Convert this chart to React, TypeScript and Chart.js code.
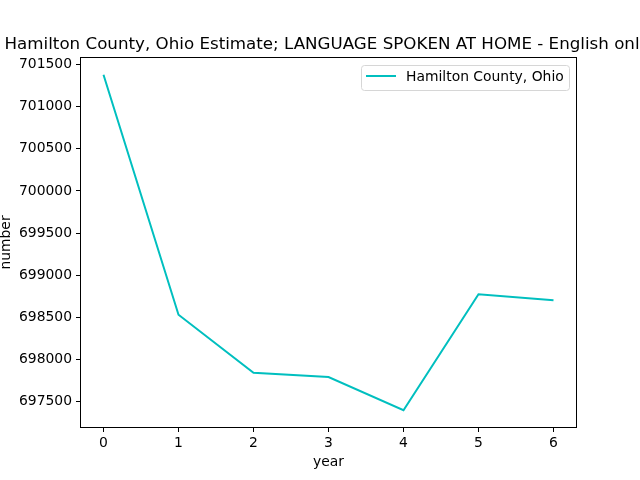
import React, { useEffect, useRef } from "react";
import { Chart, registerables } from "chart.js";

Chart.register(...registerables);

const years = [0, 1, 2, 3, 4, 5, 6];
const values = [701378, 698531, 697842, 697792, 697398, 698774, 698704];
const yTicks = [697500, 698000, 698500, 699000, 699500, 700000, 700500, 701000, 701500];
const seriesLabel = "Hamilton County, Ohio";
const titleText = "Hamilton County, Ohio Estimate; LANGUAGE SPOKEN AT HOME - English only";
const xLabel = "year";
const yLabel = "number";
const lineColor = "#00bfbf";
const FONT = "'DejaVu Sans', sans-serif";

const decorPlugin = {
  id: "decor",
  afterDraw(chart: any) {
    const { ctx, chartArea } = chart;
    const { left, right, top, bottom } = chartArea;
    ctx.save();
    ctx.strokeStyle = "#000";
    ctx.lineWidth = 1;
    ctx.strokeRect(Math.round(left) - 0.5, Math.round(top) - 0.5, Math.round(right - left) + 1, Math.round(bottom - top) + 1);
    const cx = (left + right) / 2;
    ctx.fillStyle = "#000";
    ctx.font = `16.7px ${FONT}`;
    ctx.textAlign = "center";
    ctx.textBaseline = "alphabetic";
    ctx.fillText(titleText, cx - 1.5, 48.5);
    ctx.font = `13.9px ${FONT}`;
    ctx.textBaseline = "middle";
    ctx.fillText(xLabel, cx, 462);
    ctx.save();
    ctx.translate(6, (top + bottom) / 2);
    ctx.rotate(-Math.PI / 2);
    ctx.fillText(yLabel, 0, 0);
    ctx.restore();
    const bx = 361.5, by = 65.5, bw = 208, bh = 25, r = 3;
    ctx.beginPath();
    ctx.moveTo(bx + r, by);
    ctx.lineTo(bx + bw - r, by);
    ctx.quadraticCurveTo(bx + bw, by, bx + bw, by + r);
    ctx.lineTo(bx + bw, by + bh - r);
    ctx.quadraticCurveTo(bx + bw, by + bh, bx + bw - r, by + bh);
    ctx.lineTo(bx + r, by + bh);
    ctx.quadraticCurveTo(bx, by + bh, bx, by + bh - r);
    ctx.lineTo(bx, by + r);
    ctx.quadraticCurveTo(bx, by, bx + r, by);
    ctx.closePath();
    ctx.fillStyle = "rgba(255,255,255,0.8)";
    ctx.fill();
    ctx.strokeStyle = "#d6d6d6";
    ctx.stroke();
    ctx.strokeStyle = lineColor;
    ctx.lineWidth = 2;
    ctx.beginPath();
    ctx.moveTo(366, 76);
    ctx.lineTo(396, 76);
    ctx.stroke();
    ctx.fillStyle = "#000";
    ctx.textAlign = "left";
    ctx.textBaseline = "middle";
    ctx.font = `13.9px ${FONT}`;
    ctx.fillText(seriesLabel, 406, 77);
    ctx.restore();
  },
};

export default function App() {
  const ref = useRef<HTMLCanvasElement>(null);
  useEffect(() => {
    document.body.style.margin = "0";
    Chart.defaults.color = "#000";
    Chart.defaults.font.family = FONT;
    const chart = new Chart(ref.current!, {
      type: "line",
      data: {
        datasets: [
          {
            label: seriesLabel,
            data: years.map((x, i) => ({ x, y: values[i] })),
            borderColor: lineColor,
            borderWidth: 2,
            pointRadius: 0,
            tension: 0,
            fill: false,
          },
        ],
      },
      options: {
        animation: false,
        responsive: false,
        devicePixelRatio: 1,
        layout: { padding: { left: 0, top: 58, right: 64, bottom: 0 } },
        plugins: { legend: { display: false }, title: { display: false }, tooltip: { enabled: false } },
        scales: {
          x: {
            type: "linear",
            min: -0.3,
            max: 6.3,
            border: { display: false },
            grid: { drawOnChartArea: false, drawTicks: true, tickLength: 5, color: "#000" },
            ticks: { stepSize: 1, padding: 3, font: { size: 13.9, family: FONT }, color: "#000", maxRotation: 0, callback: (v: any) => String(v) },
            afterBuildTicks: (scale: any) => {
              scale.ticks = years.map((v) => ({ value: v }));
            },
            afterFit: (scale: any) => {
              scale.height = 53;
            },
          },
          y: {
            type: "linear",
            min: 697199,
            max: 701577,
            border: { display: false },
            grid: { drawOnChartArea: false, drawTicks: true, tickLength: 5, color: "#000" },
            ticks: { stepSize: 500, padding: 4, font: { size: 13.9, family: FONT }, color: "#000", callback: (v: any) => String(v) },
            afterBuildTicks: (scale: any) => {
              scale.ticks = yTicks.map((v) => ({ value: v }));
            },
            afterFit: (scale: any) => {
              scale.width = 81;
            },
          },
        },
      },
      plugins: [decorPlugin],
    } as any);
    return () => chart.destroy();
  }, []);
  return (
    <div style={{ position: "absolute", left: 0, top: 0, width: 640, height: 480, background: "#fff" }}>
      <canvas ref={ref} width={640} height={480} style={{ width: 640, height: 480 }} />
    </div>
  );
}
